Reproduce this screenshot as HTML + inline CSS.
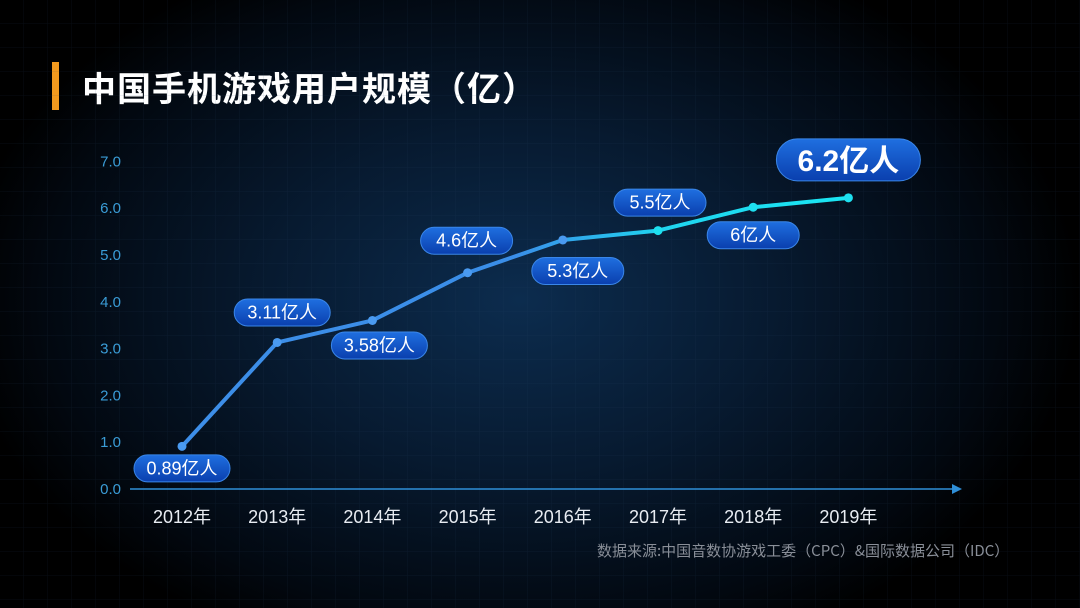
<!DOCTYPE html>
<html><head><meta charset="utf-8"><style>
body{margin:0;width:1080px;height:608px;overflow:hidden;background:#000;}
#root{position:relative;width:1080px;height:608px;background:radial-gradient(ellipse 560px 380px at 520px 300px,#0c2c4e 0%,#071a30 45%,#020810 85%,#000 100%);font-family:"Liberation Sans","Noto Sans CJK SC",sans-serif;}
.t{position:absolute;}
</style></head><body>
<div id="root">
<div class="t" style="left:52px;top:62px;width:7px;height:48px;background:#f39a1e"></div>
<div class="t" style="left:82px;top:62px;font-size:34px;font-weight:bold;color:#fff;letter-spacing:1px;font-family:'Noto Sans CJK SC',sans-serif;">中国手机游戏用户规模（亿）</div>
<div class="t" style="left:597px;top:540px;font-size:15px;color:#8a8f98;font-family:'Noto Sans CJK SC',sans-serif;">数据来源:中国音数协游戏工委（CPC）&amp;国际数据公司（IDC）</div>
<svg id="chart" class="t" style="left:0;top:0" width="1080" height="608">
<defs>
<linearGradient id="lg" x1="182" x2="848" y1="0" y2="0" gradientUnits="userSpaceOnUse"><stop offset="0" stop-color="#3d8ee8"/><stop offset="0.5" stop-color="#3a8ee8"/><stop offset="0.72" stop-color="#20d4f0"/><stop offset="1" stop-color="#1ae6f2"/></linearGradient>
<linearGradient id="pill" x1="0" x2="0" y1="0" y2="1"><stop offset="0" stop-color="#1f6fe0"/><stop offset="1" stop-color="#0a3fae"/></linearGradient>
<pattern id="grid" width="24" height="24" patternUnits="userSpaceOnUse"><path d="M24 0V24H0" fill="none" stroke="#2a4a6a" stroke-opacity="0.18" stroke-width="1"/></pattern>
</defs>
<rect width="1080" height="608" fill="url(#grid)"/>
<g id="g"></g>
</svg>
</div>
<script>
const categories=["2012年","2013年","2014年","2015年","2016年","2017年","2018年","2019年"];
const values=[0.89,3.11,3.58,4.6,5.3,5.5,6.0,6.2];
const valueLabels=["0.89亿人","3.11亿人","3.58亿人","4.6亿人","5.3亿人","5.5亿人","6亿人","6.2亿人"];
const yTicks=[0,1,2,3,4,5,6,7];
const yTickLabels=["0.0","1.0","2.0","3.0","4.0","5.0","6.0","7.0"];
const x=i=>182+i*95.2;
const y=v=>488-v*46.8;
const NS="http://www.w3.org/2000/svg";
const g=document.getElementById('g');
function mk(t,a){const e=document.createElementNS(NS,t);for(const k in a)e.setAttribute(k,a[k]);g.appendChild(e);return e;}
yTicks.forEach((v,i)=>{
 const e=mk('text',{x:121,y:y(v)+6,'text-anchor':'end','font-size':15,fill:'#3a9cd6','font-family':'Liberation Sans, sans-serif'});
 
 
 e.textContent=yTickLabels[i];
});
const ax=mk('line',{x1:130,x2:955,y1:489,y2:489,stroke:'#2f8fd8','stroke-width':1.5});


const ar=mk('path',{d:'M952 484 L962 489 L952 494 Z',fill:'#2f8fd8'});


categories.forEach((c,i)=>{
 const e=mk('text',{x:x(i),y:523,'text-anchor':'middle','font-size':18,fill:'#e8ecf2','font-family':'Liberation Sans, Noto Sans CJK SC, sans-serif'});
 
 
 e.textContent=c;
});
const pl=mk('polyline',{points:values.map((v,i)=>x(i)+','+y(v)).join(' '),fill:'none',stroke:'url(#lg)','stroke-width':4,'stroke-linejoin':'round'});


values.forEach((v,i)=>{
 const d=mk('circle',{cx:x(i),cy:y(v),r:4.5,fill:i>4?'#1ee0f0':'#4a9af0'});
 
 
});
// label offsets (dx, dy from point) and sizes
const off=[[0,22],[5,-30],[7,25],[-1,-32],[15,31],[2,-28],[0,28],[0,-38]];
values.forEach((v,i)=>{
 const big=i===values.length-1;
 const w=big?144:(valueLabels[i].length>5?96:92), h=big?42:27;
 const cx=x(i)+off[i][0], cy=y(v)+off[i][1];
 const r=mk('rect',{x:cx-w/2,y:cy-h/2,width:w,height:h,rx:h/2,fill:'url(#pill)',stroke:'#3a86e8','stroke-width':1});
 
 
 const t=mk('text',{x:cx,y:cy+(big?11:6),'text-anchor':'middle','font-size':big?30:18,'font-weight':big?'bold':'normal',fill:'#fff','font-family':'Liberation Sans, Noto Sans CJK SC, sans-serif'});
 
 
 t.textContent=valueLabels[i];
});
</script>
</body></html>
